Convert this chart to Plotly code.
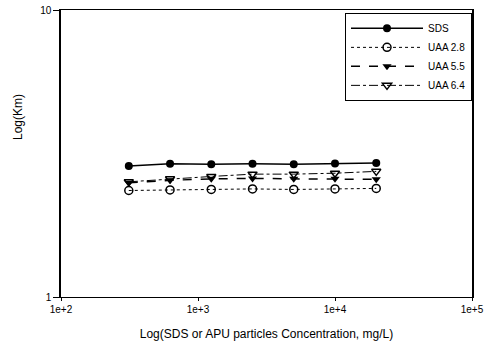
import plotly.graph_objects as go

conc = [312.5, 625, 1250, 2500, 5000, 10000, 20000]
sds = [2.86, 2.91, 2.90, 2.91, 2.90, 2.92, 2.93]
uaa28 = [2.35, 2.36, 2.37, 2.38, 2.37, 2.38, 2.39]
uaa55 = [2.50, 2.55, 2.58, 2.59, 2.58, 2.58, 2.57]
uaa64 = [2.52, 2.58, 2.63, 2.68, 2.68, 2.70, 2.74]

x_tickvals = [100, 1000, 10000, 100000]
x_ticktext = ["1e+2", "1e+3", "1e+4", "1e+5"]
y_tickvals = [1, 10]
y_ticktext = ["1", "10"]

fig = go.Figure()
fig.add_trace(go.Scatter(x=conc, y=sds, name="SDS", mode="lines+markers",
                         line=dict(color="black", width=1.5, dash="solid"),
                         marker=dict(symbol="circle", size=8, color="black")))
fig.add_trace(go.Scatter(x=conc, y=uaa28, name="UAA 2.8", mode="lines+markers",
                         line=dict(color="black", width=1, dash="dot"),
                         marker=dict(symbol="circle-open", size=8, color="black", line=dict(width=1.5))))
fig.add_trace(go.Scatter(x=conc, y=uaa55, name="UAA 5.5", mode="lines+markers",
                         line=dict(color="black", width=1.5, dash="dash"),
                         marker=dict(symbol="triangle-down", size=8, color="black")))
fig.add_trace(go.Scatter(x=conc, y=uaa64, name="UAA 6.4", mode="lines+markers",
                         line=dict(color="black", width=1, dash="dashdot"),
                         marker=dict(symbol="triangle-down-open", size=8, color="black", line=dict(width=1.5))))

fig.update_layout(
    width=486, height=346,
    margin=dict(l=61, r=14, t=10, b=49, autoexpand=False),
    paper_bgcolor="white", plot_bgcolor="white",
    font=dict(family="Liberation Sans, Arial, sans-serif", color="black", size=10),
    showlegend=True,
    legend=dict(x=1.0, y=0.99, xanchor="right", yanchor="top",
                bordercolor="black", borderwidth=1, bgcolor="white",
                font=dict(size=10), tracegroupgap=0, itemwidth=72),
    annotations=[dict(text="Log(Km)", xref="paper", yref="paper",
                      x=-(61 - 18) / 411, y=(297 - 117) / 287,
                      xanchor="center", yanchor="middle", textangle=-90,
                      showarrow=False, font=dict(size=12))],
)
fig.update_xaxes(type="log", range=[2, 5], tickvals=x_tickvals, ticktext=x_ticktext,
                 showgrid=False, zeroline=False, showline=True, linecolor="black", linewidth=1,
                 mirror=True, ticks="outside", ticklen=3, tickcolor="black", automargin=False,
                 title=dict(text="Log(SDS or APU particles Concentration, mg/L)", font=dict(size=12)))
fig.update_yaxes(type="log", range=[0, 1], tickvals=y_tickvals, ticktext=y_ticktext,
                 showgrid=False, zeroline=False, showline=True, linecolor="black", linewidth=1.5,
                 mirror=True, ticks="outside", ticklen=6, tickcolor="black", automargin=False)

fig.write_html("out.html", config={"displayModeBar": False},
               post_script="document.body.style.margin='0';")
